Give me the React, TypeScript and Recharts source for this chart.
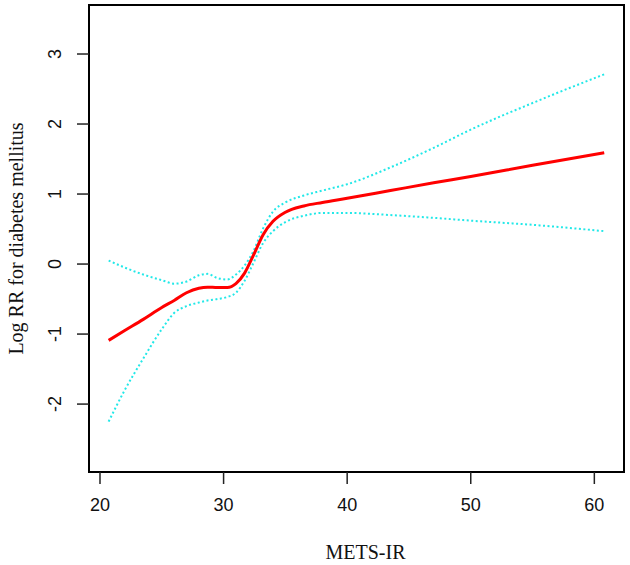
import React from "react";
import {
  LineChart,
  Line,
  XAxis,
  YAxis,
  ReferenceArea,
  Label,
} from "recharts";

const metsIr = [
  20.7, 22, 23.5, 25, 26, 27, 28, 28.7, 29.5, 30.3, 31, 31.7, 32.4, 33.2, 34, 35,
  36.5, 38, 40, 43.5, 47, 50, 55, 60.8,
];
// fitted log RR
const logRR = [
  -1.09, -0.95, -0.79, -0.62, -0.52, -0.41, -0.345, -0.33, -0.335, -0.335, -0.28,
  -0.13, 0.12, 0.42, 0.61, 0.74, 0.83, 0.88, 0.94, 1.05, 1.16, 1.25, 1.41, 1.59,
];
// 95% CI bounds
const upperCI = [
  0.05, -0.05, -0.15, -0.23, -0.28, -0.25, -0.16, -0.14, -0.2, -0.22, -0.15, -0.02,
  0.18, 0.51, 0.75, 0.88, 0.98, 1.05, 1.14, 1.38, 1.66, 1.92, 2.3, 2.71,
];
const lowerCI = [
  -2.25, -1.8, -1.35, -0.93, -0.7, -0.6, -0.55, -0.52, -0.5, -0.47, -0.41, -0.24,
  0.01, 0.3, 0.47, 0.6, 0.69, 0.73, 0.73, 0.7, 0.66, 0.62, 0.56, 0.47,
];

const xTicks = [20, 30, 40, 50, 60];
const yTicks = [-2, -1, 0, 1, 2, 3];
const xDomain: [number, number] = [19.11, 62.4];
const yDomain: [number, number] = [-2.97, 3.7];

const data = metsIr.map((x, i) => ({
  x,
  est: logRR[i],
  hi: upperCI[i],
  lo: lowerCI[i],
}));

const sans = "'Liberation Sans', Arial, sans-serif";
const serif = "'Liberation Serif', 'Times New Roman', serif";

function XTick({ x, y, payload }: any) {
  return (
    <text x={x} y={y + 25} textAnchor="middle" fontFamily={sans} fontSize={18} fill="#111">
      {payload.value}
    </text>
  );
}

function YTick({ x, y, payload }: any) {
  const cx = x - 20;
  return (
    <text
      x={cx}
      y={y}
      transform={`rotate(-90 ${cx} ${y})`}
      textAnchor="middle"
      dominantBaseline="central"
      fontFamily={sans}
      fontSize={18}
      fill="#111"
    >
      {payload.value}
    </text>
  );
}

export default function App() {
  return (
    <div style={{ position: "absolute", left: 0, top: 0, background: "#fff" }}>
      <LineChart
        width={630}
        height={565}
        data={data}
        margin={{ top: 5, right: 6, bottom: 0, left: 0 }}
      >
        <XAxis
          dataKey="x"
          type="number"
          domain={xDomain}
          ticks={xTicks}
          allowDataOverflow
          height={93}
          tickSize={12}
          tickLine={{ stroke: "#222", strokeWidth: 1.5 }}
          axisLine={false}
          tick={<XTick />}
        >
          <Label
            content={({ viewBox }: any) => (
              <text
                x={viewBox.x + viewBox.width / 2 + 9}
                y={viewBox.y + 87}
                textAnchor="middle"
                fontFamily={serif}
                fontSize={20}
                fill="#111"
              >
                METS-IR
              </text>
            )}
          />
        </XAxis>
        <YAxis
          type="number"
          domain={yDomain}
          ticks={yTicks}
          allowDataOverflow
          width={89}
          tickSize={12}
          tickLine={{ stroke: "#222", strokeWidth: 1.5 }}
          axisLine={false}
          tick={<YTick />}
        >
          <Label
            content={({ viewBox }: any) => {
              const cx = 16;
              const cy = viewBox.y + viewBox.height / 2;
              return (
                <text
                  x={cx}
                  y={cy}
                  transform={`rotate(-90 ${cx} ${cy})`}
                  textAnchor="middle"
                  dominantBaseline="central"
                  fontFamily={serif}
                  fontSize={20}
                  fill="#111"
                >
                  Log RR for diabetes mellitus
                </text>
              );
            }}
          />
        </YAxis>
        <ReferenceArea
          x1={xDomain[0]}
          x2={xDomain[1]}
          y1={yDomain[0]}
          y2={yDomain[1]}
          fill="none"
          fillOpacity={0}
          stroke="#000"
          strokeWidth={2}
        />
        <Line
          type="monotone"
          dataKey="hi"
          stroke="#22e8e8"
          strokeWidth={2}
          strokeDasharray="2 2.5"
          dot={false}
          isAnimationActive={false}
        />
        <Line
          type="monotone"
          dataKey="lo"
          stroke="#22e8e8"
          strokeWidth={2}
          strokeDasharray="2 2.5"
          dot={false}
          isAnimationActive={false}
        />
        <Line
          type="monotone"
          dataKey="est"
          stroke="#ff0000"
          strokeWidth={3}
          dot={false}
          isAnimationActive={false}
        />
      </LineChart>
    </div>
  );
}
